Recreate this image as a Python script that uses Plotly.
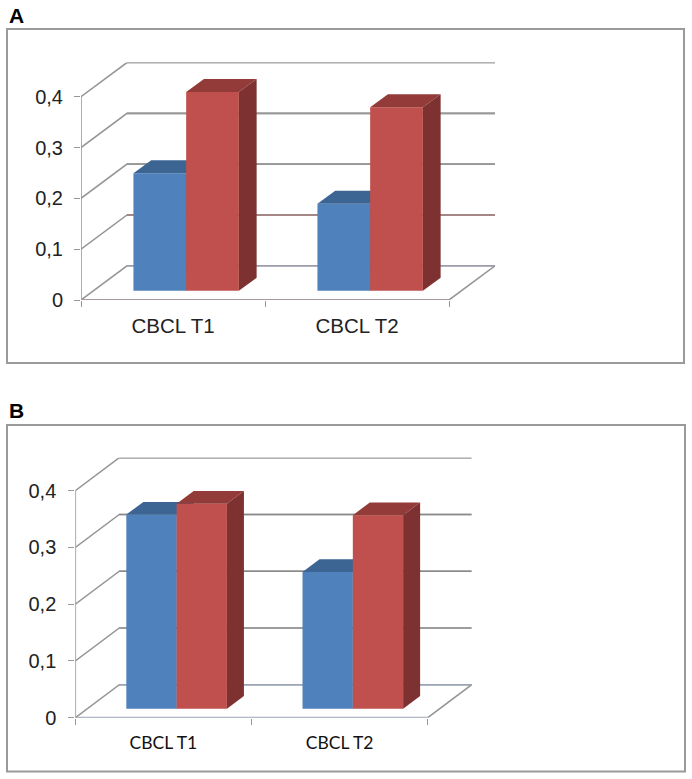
import plotly.graph_objects as go

W, H = 692, 779

categories = ["CBCL T1", "CBCL T2"]
y_ticks = [0, 0.1, 0.2, 0.3, 0.4]
y_labels = ["0", "0,1", "0,2", "0,3", "0,4"]
blue_a = [0.231, 0.171]
red_a = [0.391, 0.361]
blue_b = [0.342, 0.241]
red_b = [0.361, 0.341]

BLUE = dict(front="#4f81bd", top="#3c6594", side="#3a608c")
RED = dict(front="#c0504d", top="#933b39", side="#7d3130")
GRID = "#979797"

PANELS = [
    dict(letter="A", letter_xy=(7, 15.5), frame=(7, 29, 684, 363),
         blue=blue_a, red=red_a,
         x0=81, x_end=449, x_back=495, y0=300, y4=96.7, y_back=62.5,
         bar_w=0.2865, shift_x=0.0715, shift_y=0.0183, deep_x=0.0965, deep_y=0.0255,
         cat_font=dict(family="Liberation Sans", size=20.5, color="#222222"),
         cat_standoff=11, val_size=20, val_standoff=7,
         grid_colors=["#9c9cb0", "#a07878", GRID, GRID, GRID], axis_color="#a59aa0"),
    dict(letter="B", letter_xy=(7, 410), frame=(7, 425, 685, 771.5),
         blue=blue_b, red=red_b,
         x0=75.3, x_end=427.7, x_back=471.7, y0=717.7, y4=490.7, y_back=457.7,
         bar_w=0.2855, shift_x=0.075, shift_y=0.0159, deep_x=0.0965, deep_y=0.0224,
         cat_font=dict(family="Lato", size=17.5, color="#111111"),
         cat_standoff=13, val_size=20, val_standoff=8,
         grid_colors=["#9aa5b5", GRID, "#8a8a8a", "#8a8a8a", GRID], axis_color="#9aa5b5"),
]

fig = go.Figure()
layout = dict(
    width=W, height=H, autosize=False, margin=dict(l=0, r=0, t=0, b=0, pad=0, autoexpand=False),
    paper_bgcolor="white", plot_bgcolor="rgba(0,0,0,0)", showlegend=False,
    barmode="overlay", shapes=[], annotations=[],
)


def name(prefix, n):
    return prefix + ("" if n == 1 else str(n))


def faces(fig, values, colors, centre_offset, p, xa, ya):
    w = p["bar_w"]
    for i, v in enumerate(values):
        left = i + 0.5 + p["shift_x"] + centre_offset - w / 2
        right = left + w
        base = p["shift_y"]
        top = base + v
        dx, dy = p["deep_x"], p["deep_y"]
        # top face
        fig.add_trace(go.Scatter(
            x=[left, right, right + dx, left + dx, left],
            y=[top, top, top + dy, top + dy, top],
            mode="lines", fill="toself", fillcolor=colors["top"],
            line=dict(width=0), hoverinfo="skip", xaxis=xa, yaxis=ya))
        # side face
        fig.add_trace(go.Scatter(
            x=[right, right + dx, right + dx, right, right],
            y=[base, base + dy, top + dy, top, base],
            mode="lines", fill="toself", fillcolor=colors["side"],
            line=dict(width=0), hoverinfo="skip", xaxis=xa, yaxis=ya))
    fig.add_trace(go.Bar(
        x=[i + 0.5 + p["shift_x"] + centre_offset for i in range(len(values))],
        y=values, base=p["shift_y"], width=w,
        marker=dict(color=colors["front"], line=dict(width=0)),
        hoverinfo="skip", xaxis=xa, yaxis=ya))


for k, p in enumerate(PANELS):
    n_base = 3 * k + 1
    xa, ya = name("x", n_base), name("y", n_base)
    px_per_cat = (p["x_end"] - p["x0"]) / len(categories)
    px_per_val = (p["y0"] - p["y4"]) / y_ticks[-1]
    depth_x = (p["x_back"] - p["x_end"]) / px_per_cat
    depth_y = (p["y4"] - p["y_back"]) / px_per_val
    x_max = len(categories) + depth_x
    y_max = y_ticks[-1] + depth_y
    xdom = [p["x0"] / W, p["x_back"] / W]
    ydom = [1 - p["y0"] / H, 1 - p["y_back"] / H]

    # walls, grid and floor
    for t, c in zip(y_ticks, p["grid_colors"]):
        fig.add_trace(go.Scatter(
            x=[0, depth_x, x_max], y=[t, t + depth_y, t + depth_y], mode="lines",
            line=dict(color=GRID, width=1.6), hoverinfo="skip", xaxis=xa, yaxis=ya))
        fig.add_trace(go.Scatter(
            x=[depth_x, x_max], y=[t + depth_y, t + depth_y], mode="lines",
            line=dict(color=c, width=1.6), hoverinfo="skip", xaxis=xa, yaxis=ya))
    fig.add_trace(go.Scatter(
        x=[0, 0], y=[0, y_ticks[-1]], mode="lines",
        line=dict(color=GRID, width=1.6), hoverinfo="skip", xaxis=xa, yaxis=ya))
    fig.add_trace(go.Scatter(
        x=[len(categories), x_max], y=[0, depth_y], mode="lines",
        line=dict(color=GRID, width=1.6), hoverinfo="skip", xaxis=xa, yaxis=ya))
    fig.add_trace(go.Scatter(
        x=[0, len(categories)], y=[0, 0], mode="lines", cliponaxis=False,
        line=dict(color=p["axis_color"], width=1.8), hoverinfo="skip", xaxis=xa, yaxis=ya))

    # series, one overlay each so that red hides blue's back edge
    faces(fig, p["blue"], BLUE, -p["bar_w"] / 2, p, name("x", n_base + 1), name("y", n_base + 1))
    faces(fig, p["red"], RED, p["bar_w"] / 2, p, name("x", n_base + 2), name("y", n_base + 2))

    layout[name("xaxis", n_base)] = dict(
        domain=xdom, range=[0, x_max], showgrid=False, zeroline=False, showline=False,
        automargin=False,
        tickmode="array", tickvals=[i + 0.5 for i in range(len(categories))], ticktext=categories,
        ticks="", ticklabelstandoff=p["cat_standoff"], tickfont=p["cat_font"],
        minor=dict(tickmode="array", tickvals=list(range(len(categories) + 1)), ticks="outside",
                   ticklen=6, tickwidth=1.4, tickcolor=GRID, showgrid=False),
        anchor=ya,
    )
    layout[name("yaxis", n_base)] = dict(
        domain=ydom, range=[0, y_max], showgrid=False, zeroline=False, showline=False,
        automargin=False,
        tickmode="array", tickvals=y_ticks, ticktext=y_labels, ticks="outside", ticklen=6,
        tickwidth=1.4, tickcolor=GRID, ticklabelstandoff=p["val_standoff"],
        tickfont=dict(family="Liberation Sans", size=p["val_size"], color="#222222"),
        anchor=xa,
    )
    for off in (1, 2):
        m = n_base + off
        layout[name("xaxis", m)] = dict(
            domain=xdom, range=[0, x_max], visible=False, overlaying=xa, anchor=name("y", m))
        layout[name("yaxis", m)] = dict(
            domain=ydom, range=[0, y_max], visible=False, overlaying=ya, anchor=name("x", m))

    x1, y1, x2, y2 = p["frame"]
    layout["shapes"].append(dict(
        type="rect", xref="paper", yref="paper", x0=x1 / W, x1=x2 / W, y0=1 - y2 / H, y1=1 - y1 / H,
        line=dict(color="#9a9a9a", width=2), fillcolor="rgba(0,0,0,0)", layer="below"))
    layout["annotations"].append(dict(
        text=f"<b>{p['letter']}</b>", xref="paper", yref="paper", x=p["letter_xy"][0] / W,
        y=1 - p["letter_xy"][1] / H, xanchor="left", yanchor="middle", showarrow=False,
        font=dict(family="Liberation Sans", size=21, color="black")))

fig.update_layout(**layout)
fig.write_html("out.html", config=dict(displayModeBar=False),
               post_script="document.body.style.margin='0';document.documentElement.style.overflow='hidden';")
